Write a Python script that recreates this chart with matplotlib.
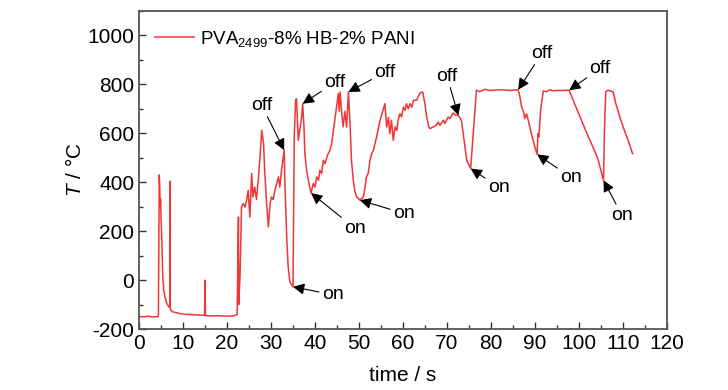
import matplotlib
matplotlib.use("Agg")
import matplotlib.pyplot as plt
from matplotlib.ticker import MultipleLocator

plt.rcParams['font.family'] = ['Liberation Sans', 'DejaVu Sans']
plt.rcParams['mathtext.fontset'] = 'custom'
plt.rcParams['mathtext.rm'] = 'Liberation Sans'
plt.rcParams['mathtext.it'] = 'Liberation Sans:italic'
plt.rcParams['axes.unicode_minus'] = False

time_s = [0, 1, 2, 3, 4.3, 4.4, 4.6, 4.7, 4.8, 4.9, 5.0, 5.2, 5.4, 5.6, 5.9, 6.3, 6.8, 7.0, 7.05, 7.1, 7.6,
          8.5, 9.5, 11, 12.5, 14, 14.9, 15.0, 15.1, 16, 18, 20, 21.5, 22.3,
          22.6, 22.65, 22.95, 23.3, 23.7, 24.1, 24.5, 24.8, 25.2, 25.6, 25.9, 26.3, 26.7, 27.1, 27.5, 27.9,
          28.3, 28.6, 29.0, 29.4, 29.8, 30.1, 30.5, 30.9, 31.3, 31.7, 32.0, 32.4, 32.8, 33.0,
          33.2, 33.6, 33.9, 34.3, 35.0, 35.3, 35.6, 35.8, 36.2, 36.6, 36.97, 37.2,
          37.5, 37.7, 38.1, 38.5, 38.9, 39.1, 39.6, 40.0, 40.4, 40.8, 41.1, 41.5, 41.9, 42.3, 42.7,
          43.0, 43.4, 43.8, 44.2, 44.5, 44.9, 45.3, 45.5, 45.7, 46.1, 46.4, 46.8, 47.2, 47.6,
          48.0, 48.3, 48.7, 49.1, 49.5, 50.2, 51.0, 51.4, 51.7, 52.1, 52.5, 52.9, 53.3, 54.0,
          54.8, 55.9, 56.3, 56.7, 57.0, 57.4, 57.8, 58.2, 58.6, 58.9, 59.3, 59.7, 60.1, 60.5,
          60.8, 61.2, 61.6, 62.0, 62.4, 63.1, 63.5, 63.9, 64.5, 65.0, 65.4, 65.8, 66.1, 66.9,
          67.6, 68.0, 68.4, 69.2, 69.5, 70.3, 70.7, 71.4, 72.0, 72.6, 73.3, 74.1, 74.5, 75.4,
          76.7, 77.5, 78.6, 79.8, 82.0, 84.3, 86.2, 86.6, 87.0, 87.4, 87.7, 88.1, 88.5, 89.2,
          90.0, 90.5, 90.7, 90.9, 91.3, 91.9, 92.6, 93.4, 94.2, 94.9, 96.4, 97.8,
          98.7, 99.8, 100.9, 102.0, 103.2, 104.3, 105.6, 105.8, 106.1, 106.6, 107.2, 107.8,
          108.4, 109.3, 110.2, 111.2, 112.2]

temp_c = [-148, -150, -147, -150, -149, -140, 430, 380, 300, 330, 258, 150, 13, -37, -68, -95, -109, -110, 405, -118, -129,
          -133, -137, -140, -141, -143, -144, 0, -145, -146, -145, -147, -146, -140,
          258, -100, 13, 299, 313, 299, 330, 367, 258, 436, 340, 380, 330, 408, 503, 612,
          560, 436, 313, 218, 313, 340, 330, 367, 394, 422, 380, 449, 503, 531,
          367, 163, 54, -7, -27, 599, 735, 741, 571, 620, 667, 721,
          626, 517, 449, 408, 374, 356, 395, 380, 422, 408, 449, 436, 490, 476, 503,
          517, 531, 558, 612, 653, 707, 762, 690, 769, 680, 626, 690, 626, 769,
          626, 490, 408, 360, 340, 327, 340, 381, 422, 436, 490, 517, 531, 585,
          653, 721, 626, 665, 599, 653, 571, 626, 612, 653, 680, 667, 707, 694,
          721, 700, 721, 707, 735, 735, 750, 765, 769, 720, 667, 633, 619, 626,
          633, 646, 633, 653, 640, 667, 660, 683, 674, 673, 653, 544, 490, 456,
          776, 770, 780, 775, 778, 775, 778, 748, 706, 690, 660, 680, 653, 599,
          544, 514, 599, 585, 694, 773, 770, 778, 773, 775, 775, 776,
          735, 687, 640, 592, 544, 497, 408, 600, 769, 776, 773, 769,
          721, 667, 619, 571, 517]

x_ticks = list(range(0, 121, 10))
y_ticks = list(range(-200, 1001, 200))

# annotations: label, arrow tip and text centre
ann_labels = ['off', 'on', 'off', 'on', 'off', 'on', 'off', 'on', 'off', 'on', 'off', 'on']
ann_tip_x = [33.0, 35.0, 37.2, 39.1, 47.6, 50.2, 72.6, 75.4, 86.2, 90.5, 97.8, 105.6]
ann_tip_y = [531, -27, 721, 356, 769, 327, 673, 456, 778, 514, 776, 408]
ann_txt_x = [27.9, 44.0, 44.5, 49.1, 55.9, 60.2, 70.0, 81.8, 91.6, 98.2, 104.8, 109.8]
ann_txt_y = [714, -59, 808, 212, 849, 273, 833, 380, 927, 420, 865, 265]

fig = plt.figure(figsize=(7.28, 3.9), dpi=100)
ax = fig.add_axes([0.191, 0.156, 0.725, 0.816])

ax.plot(time_s, temp_c, color='#f23434', lw=1.1, label=r'PVA$_{2499}$-8% HB-2% PANI')

for lab, tx, ty, sx, sy in zip(ann_labels, ann_tip_x, ann_tip_y, ann_txt_x, ann_txt_y):
    ax.annotate(lab, xy=(tx, ty), xytext=(sx, sy), ha='center', va='center', fontsize=14,
                arrowprops=dict(arrowstyle='-|>', color='black', lw=0.8, mutation_scale=17,
                                shrinkA=0, shrinkB=0))

ax.set_xlim(0, 120)
ax.set_ylim(-200, 1100)
ax.set_xticks(x_ticks)
ax.set_yticks(y_ticks)
ax.xaxis.set_minor_locator(MultipleLocator(5))
ax.yaxis.set_minor_locator(MultipleLocator(100))
ax.tick_params(which='both', direction='in', top=False, right=False, labelsize=15, colors='#333333',
               labelcolor='black')
ax.tick_params(which='major', length=5, width=1)
ax.tick_params(which='minor', length=3, width=1)
for s in ax.spines.values():
    s.set_color('#555555')
    s.set_linewidth(1.3)

ax.set_xlabel('time / s', fontsize=15, labelpad=9)
ax.set_ylabel(r'$\mathit{T}$ / °C', fontsize=15, labelpad=2)

leg = ax.legend(loc='upper left', frameon=False, fontsize=13.5, handlelength=2.1, handletextpad=0.3,
                borderpad=0, borderaxespad=0, bbox_to_anchor=(0.030, 0.944))

fig.savefig('out.png', dpi=100)
